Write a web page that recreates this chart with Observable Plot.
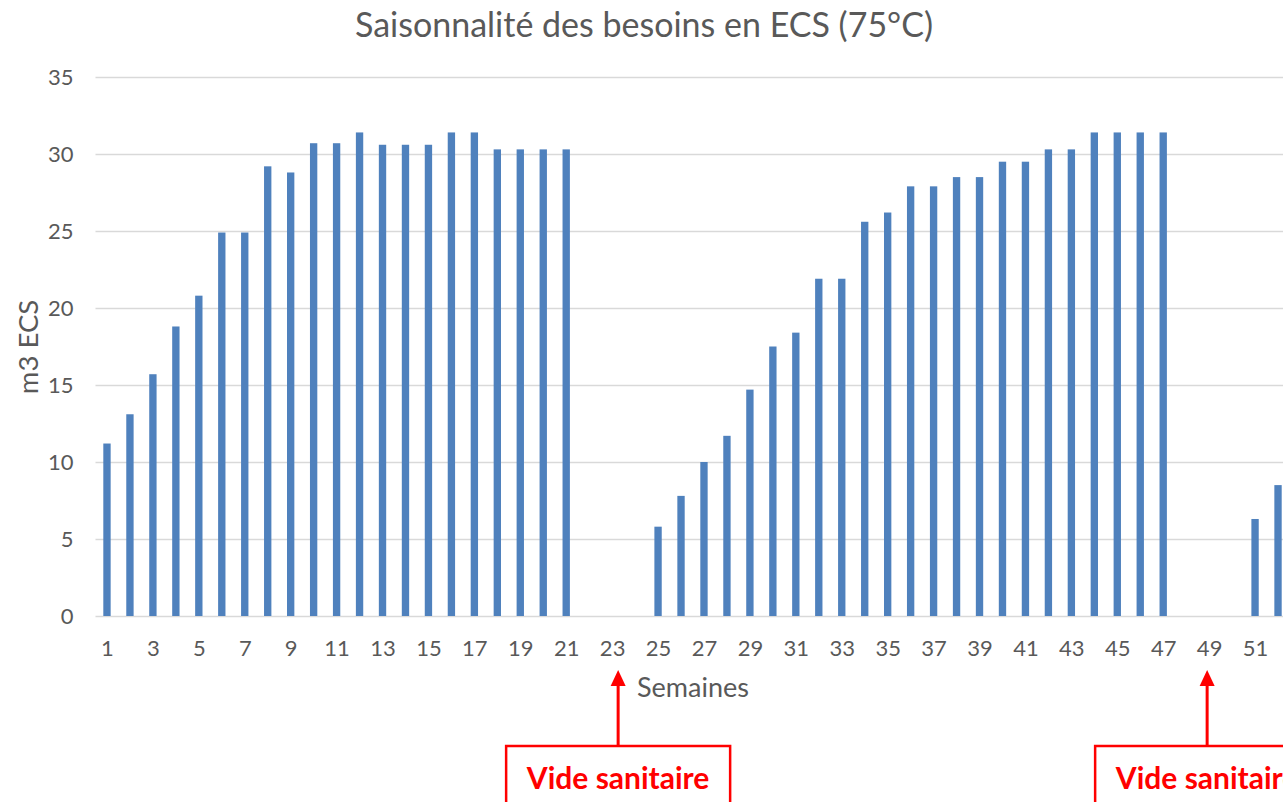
<!DOCTYPE html>
<html>
<head>
<meta charset="utf-8">
<script src="https://cdn.jsdelivr.net/npm/d3@7"></script>
<script src="https://cdn.jsdelivr.net/npm/@observablehq/plot@0.6"></script>
<style>
  html, body { margin: 0; padding: 0; overflow: hidden; background: #fff; }
  #chart { width: 1283px; height: 802px; overflow: hidden; }
  #chart svg { max-width: none !important; width: 1300px !important; height: 802px !important; }
</style>
</head>
<body>
<div id="chart"></div>
<script>
const title = "Saisonnalité des besoins en ECS (75°C)";
const xLabel = "Semaines";
const yLabel = "m3 ECS";
const weeks = d3.range(1, 53);
const values = [
  11.2, 13.1, 15.7, 18.8, 20.8, 24.9, 24.9, 29.2, 28.8, 30.7,
  30.7, 31.4, 30.6, 30.6, 30.6, 31.4, 31.4, 30.3, 30.3, 30.3,
  30.3, 0, 0, 0, 5.8, 7.8, 10.0, 11.7, 14.7, 17.5,
  18.4, 21.9, 21.9, 25.6, 26.2, 27.9, 27.9, 28.5, 28.5, 29.5,
  29.5, 30.3, 30.3, 31.4, 31.4, 31.4, 31.4, 0, 0, 0,
  6.3, 8.5
];
const xTicks = weeks.filter(w => w % 2 === 1);
const yTicks = [0, 5, 10, 15, 20, 25, 30, 35];
const annotationWeeks = [23, 49];
const annotationText = "Vide sanitaire";

const data = weeks.map((w, i) => ({week: w, value: values[i]}));

const chart = Plot.plot({
  width: 1300,
  height: 802,
  marginLeft: 95.5,
  marginRight: 10.5,
  marginTop: 77,
  marginBottom: 186,
  style: {fontFamily: "Lato, 'Open Sans', sans-serif", fontSize: "22px", color: "#595959", background: "#fff", maxWidth: "none"},
  x: {type: "band", domain: weeks, paddingInner: 0.68, paddingOuter: 0.34},
  y: {domain: [0, 35]},
  marks: [
    Plot.gridY(yTicks, {stroke: "#d9d9d9", strokeOpacity: 1, strokeWidth: 1.5}),
    Plot.barY(data, {x: "week", y: "value", fill: "#4f81bd"}),
    Plot.axisY({ticks: yTicks, tickSize: 0, tickPadding: 22.5, label: null, fontSize: 22}),
    Plot.axisX({ticks: xTicks, tickSize: 0, tickPadding: 23.4, label: null, fontSize: 22}),
    Plot.text([title], {frameAnchor: "top", dx: -49, dy: -51, fontSize: 34, fill: "#595959", lineAnchor: "middle"}),
    Plot.text([xLabel], {frameAnchor: "bottom", dy: 72, fontSize: 27, fill: "#595959", lineAnchor: "middle"}),
    Plot.text([yLabel], {frameAnchor: "left", dx: -67, rotate: -90, textAnchor: "middle", fontSize: 27.5, fill: "#595959", lineAnchor: "middle"})
  ]
});

document.getElementById("chart").appendChild(chart);

// Annotations ("Vide sanitaire") placed from the x scale
const xs = chart.scale("x");
const svg = d3.select(chart);
const g = svg.append("g").attr("class", "annotations");
const boxW = 224, boxTop = 746, boxBottom = 801;
const arrowTip = 670, arrowBase = 686;
annotationWeeks.forEach(w => {
  const cx = xs.apply(w) + xs.bandwidth / 2 + (w === 23 ? 6 : -2);
  g.append("line")
    .attr("x1", cx).attr("x2", cx)
    .attr("y1", boxTop).attr("y2", arrowBase)
    .attr("stroke", "#ff0000").attr("stroke-width", 3);
  g.append("path")
    .attr("d", `M${cx},${arrowTip}L${cx - 7.5},${arrowBase}L${cx + 7.5},${arrowBase}Z`)
    .attr("fill", "#ff0000");
  g.append("rect")
    .attr("x", cx - boxW / 2).attr("y", boxTop)
    .attr("width", boxW).attr("height", boxBottom - boxTop + 10)
    .attr("fill", "#fff").attr("stroke", "#ff0000").attr("stroke-width", 2.5);
  g.append("text")
    .attr("x", cx).attr("y", 778)
    .attr("dy", "0.35em")
    .attr("text-anchor", "middle")
    .attr("fill", "#ff0000")
    .attr("font-weight", "bold")
    .attr("font-size", 30)
    .text(annotationText);
});
</script>
</body>
</html>
